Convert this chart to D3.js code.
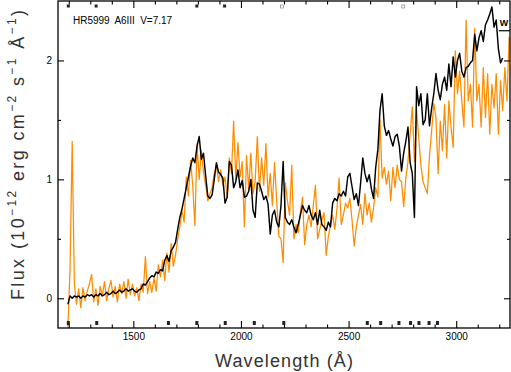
<!DOCTYPE html>
<html>
<head>
<meta charset="utf-8">
<script src="https://cdn.jsdelivr.net/npm/d3@7"></script>
<style>
  body { margin: 0; background: #fff; }
  svg { display: block; font-family: "Liberation Sans", Arial, sans-serif; }
</style>
</head>
<body>
<svg id="spectrumSvg" width="511" height="372"></svg>
<script>
// spectrum values, 10 A steps starting at 1196 A
var starLabel = "HR5999  A6III  V=7.17";
var lamStart = 1196,
  lamStep = 10;

var fluxOrange = [
  -0.24, 0.25, 1.32, 0.12, -0.05, 0.08, -0.08, 0.09, -0.02, 0.06,
  0.12, 0.20, -0.03, 0.08, -0.06, 0.10, 0.02, 0.14, -0.02, 0.08,
  0.15, 0.01, 0.10, -0.03, 0.12, 0.04, 0.14, 0.00, 0.16, 0.03,
  0.12, 0.02, 0.09, -0.02, 0.12, 0.05, 0.35, 0.04, 0.14, 0.05,
  0.17, 0.06, 0.28, 0.18, 0.32, 0.15, 0.38, 0.22, 0.46, 0.27,
  0.36, 0.50, 0.60, 0.74, 0.64, 1.02, 0.86, 1.16, 0.95, 0.61,
  1.30, 1.00, 1.24, 1.06, 0.95, 0.82, 0.88, 0.93, 1.05, 1.12,
  0.98, 1.08, 0.95, 1.02, 0.85, 1.18, 1.05, 1.49, 1.00, 1.31,
  1.02, 1.15, 0.60, 1.20, 0.92, 1.22, 0.88, 0.98, 1.36, 0.90,
  1.18, 0.95, 1.30, 0.85, 1.05, 0.78, 1.14, 0.82, 0.52, 0.50,
  0.30, 0.97, 0.82, 0.70, 1.12, 0.50, 0.62, 0.55, 0.72, 0.85,
  0.45, 0.62, 0.70, 0.60, 0.78, 0.95, 0.50, 0.58, 0.66, 0.72,
  0.36, 0.52, 0.62, 0.70, 0.58, 0.75, 1.01, 0.62, 0.70, 0.80,
  0.76, 0.84, 0.66, 0.44, 0.60, 0.70, 0.79, 0.62, 0.88, 0.70,
  0.80, 0.64, 0.76, 0.93, 0.85, 1.50, 1.01, 1.10, 0.96, 1.07,
  0.82, 1.10, 0.93, 1.12, 1.00, 0.98, 0.77, 1.01, 1.15, 1.38,
  1.61, 1.15, 1.58, 1.35, 1.12, 0.98, 0.93, 0.88, 1.20, 1.41,
  1.64, 1.52, 1.05, 1.49, 1.24, 1.63, 1.18, 1.66, 1.44, 1.27,
  2.08, 1.72, 1.91, 1.66, 1.44, 2.34, 1.66, 1.80, 1.44, 2.27,
  1.66, 1.80, 1.44, 1.94, 1.52, 1.89, 1.38, 1.80, 1.60, 1.89,
  1.38, 1.83, 1.58, 1.94, 1.66, 2.20
];

var fluxBlack = [
  -0.05, 0.02, 0.00, 0.02, 0.01, 0.02, 0.00, 0.02, 0.01, 0.03,
  0.02, 0.03, 0.01, 0.03, 0.02, 0.04, 0.02, 0.03, 0.05, 0.03,
  0.04, 0.06, 0.04, 0.05, 0.07, 0.05, 0.06, 0.08, 0.06, 0.07,
  0.08, 0.06, 0.05, 0.07, 0.08, 0.12, 0.11, 0.14, 0.17, 0.19,
  0.18, 0.22, 0.21, 0.24, 0.23, 0.32, 0.36, 0.31, 0.40, 0.43,
  0.47, 0.58, 0.68, 0.75, 0.84, 0.93, 1.02, 1.11, 1.18, 1.14,
  1.28, 1.36, 1.17, 1.22, 1.03, 0.86, 0.84, 0.87, 1.00, 1.14,
  1.06, 1.04, 1.01, 0.80, 0.85, 1.15, 1.12, 0.93, 0.98, 1.08,
  0.93, 0.99, 0.85, 0.86, 0.90, 1.00, 0.74, 0.68, 0.97, 0.96,
  0.90, 0.83, 0.86, 0.79, 0.54, 0.70, 0.74, 0.64, 0.60, 0.78,
  1.15, 0.68, 0.64, 0.62, 0.66, 0.60, 0.55, 0.62, 0.70, 0.78,
  0.74, 0.72, 0.78, 0.70, 0.66, 0.72, 0.62, 0.74, 0.62, 0.60,
  0.57, 0.64, 0.60, 0.80, 0.84, 0.82, 0.88, 0.86, 0.90, 0.86,
  1.02, 1.05, 0.94, 0.83, 0.88, 0.78, 0.97, 1.18, 1.05, 0.98,
  1.04, 0.92, 0.84, 1.10, 1.25, 1.58, 1.72, 1.45, 1.37, 1.41,
  1.34, 1.28, 1.36, 1.38, 1.28, 1.07, 1.22, 1.32, 1.44, 1.14,
  1.05, 0.68, 1.78, 1.62, 1.72, 1.46, 1.50, 1.72, 1.45, 1.60,
  1.72, 1.89, 1.75, 1.67, 1.80, 1.86, 1.75, 1.97, 1.78, 2.03,
  1.86, 2.00, 2.06, 1.91, 1.86, 1.94, 1.95, 1.98, 2.00, 2.22,
  2.08, 2.19, 2.25, 2.16, 2.30, 2.34, 2.39, 2.45, 2.28, 2.34,
  2.10, 1.98, 2.02
];

var xTickValues = [1500, 2000, 2500, 3000];
var yTickValues = [0, 1, 2];

// quality flags along the bottom and top edges
var flagsBottom = [1198, 1330, 1663, 1795, 1927, 2062, 2199, 2587, 2649, 2734, 2788, 2827, 2874, 2913];
var flagsTopFilled = [1198, 1327, 1795, 1924];
var flagsTopOpen = [2191, 2754];
var wRange = [3198, 3250],
  wLevel = 2.25;

var svg = d3.select("svg#spectrumSvg"),
  margin = { top: 1, right: 1, bottom: 44, left: 58 },
  width = +svg.attr("width") - margin.left - margin.right,
  height = +svg.attr("height") - margin.top - margin.bottom,
  g = svg
    .append("g")
    .attr("transform", "translate(" + margin.left + "," + margin.top + ")");

var x = d3.scaleLinear().domain([1150, 3250]).range([0, width]);
var y = d3.scaleLinear().domain([-0.25, 2.5]).range([height, 0]);

function toPoints(arr) {
  return arr.map(function (v, i) {
    return [lamStart + i * lamStep, v];
  });
}

svg
  .append("defs")
  .append("clipPath")
  .attr("id", "plotClip")
  .append("rect")
  .attr("width", width)
  .attr("height", height);

var line = d3
  .line()
  .x(function (d) {
    return x(d[0]);
  })
  .y(function (d) {
    return y(d[1]);
  });

var plot = g.append("g").attr("clip-path", "url(#plotClip)");

plot
  .append("path")
  .datum(toPoints(fluxOrange))
  .attr("fill", "none")
  .attr("stroke", "#ff8c00")
  .attr("stroke-width", 1.25)
  .attr("stroke-linejoin", "round")
  .attr("d", line);

plot
  .append("path")
  .datum(toPoints(fluxBlack))
  .attr("fill", "none")
  .attr("stroke", "#000")
  .attr("stroke-width", 1.45)
  .attr("stroke-linejoin", "round")
  .attr("d", line);

// flags
g.append("g")
  .selectAll("rect")
  .data(flagsBottom)
  .enter()
  .append("rect")
  .attr("x", function (d) {
    return x(d) - 1.5;
  })
  .attr("y", height - 7)
  .attr("width", 3)
  .attr("height", 4)
  .attr("fill", "#222");

g.append("g")
  .selectAll("rect")
  .data(flagsTopFilled)
  .enter()
  .append("rect")
  .attr("x", function (d) {
    return x(d) - 1.5;
  })
  .attr("y", 3.5)
  .attr("width", 3)
  .attr("height", 3)
  .attr("fill", "#222");

g.append("g")
  .selectAll("rect")
  .data(flagsTopOpen)
  .enter()
  .append("rect")
  .attr("x", function (d) {
    return x(d) - 1.5;
  })
  .attr("y", 4)
  .attr("width", 3)
  .attr("height", 3)
  .attr("fill", "none")
  .attr("stroke", "#888")
  .attr("stroke-width", 0.7);

g.append("line")
  .attr("x1", x(wRange[0]))
  .attr("x2", x(wRange[1]))
  .attr("y1", y(wLevel))
  .attr("y2", y(wLevel))
  .attr("stroke", "#000")
  .attr("stroke-width", 1.2);

g.append("text")
  .attr("x", x(3222))
  .attr("y", y(wLevel) - 5)
  .attr("text-anchor", "middle")
  .attr("font-size", 9)
  .attr("font-weight", "bold")
  .text("W");

// axes: ticks point inward on all four sides
function clean(sel) {
  sel.select(".domain").remove();
  sel.attr("font-family", null);
}

var minorX = d3.range(1200, 3250, 100).filter(function (d) {
  return xTickValues.indexOf(d) < 0;
});
var minorY = [0.5, 1.5];

g.append("g")
  .attr("transform", "translate(0," + height + ")")
  .call(d3.axisBottom(x).tickValues(xTickValues).tickSize(-7).tickPadding(5).tickFormat(d3.format("d")))
  .call(clean)
  .attr("font-size", 10);

g.append("g")
  .attr("transform", "translate(0," + height + ")")
  .call(d3.axisBottom(x).tickValues(minorX).tickSize(-3.5).tickFormat(""))
  .call(clean);

g.append("g")
  .call(d3.axisTop(x).tickValues(xTickValues).tickSize(-7).tickFormat(""))
  .call(clean);

g.append("g")
  .call(d3.axisTop(x).tickValues(minorX).tickSize(-3.5).tickFormat(""))
  .call(clean);

g.append("g")
  .call(d3.axisLeft(y).tickValues(yTickValues).tickSize(-6).tickPadding(6).tickFormat(d3.format("d")))
  .call(clean)
  .attr("font-size", 10);

g.append("g")
  .call(d3.axisLeft(y).tickValues(minorY).tickSize(-3).tickFormat(""))
  .call(clean);

g.append("g")
  .attr("transform", "translate(" + width + ",0)")
  .call(d3.axisRight(y).tickValues(yTickValues).tickSize(-6).tickFormat(""))
  .call(clean);

g.append("g")
  .attr("transform", "translate(" + width + ",0)")
  .call(d3.axisRight(y).tickValues(minorY).tickSize(-3).tickFormat(""))
  .call(clean);

g.selectAll(".tick line").attr("stroke-width", 1.1);

g.append("rect")
  .attr("width", width)
  .attr("height", height)
  .attr("fill", "none")
  .attr("stroke", "#000")
  .attr("stroke-width", 1.3);

g.append("text")
  .attr("x", 15)
  .attr("y", 23)
  .attr("font-size", 10)
  .attr("textLength", 99)
  .attr("lengthAdjust", "spacing")
  .style("white-space", "pre")
  .text(starLabel);

// axis titles
svg
  .append("text")
  .attr("x", margin.left + width / 2)
  .attr("y", 367)
  .attr("text-anchor", "middle")
  .attr("font-size", 18)
  .attr("fill", "#333")
  .attr("textLength", 138)
  .attr("lengthAdjust", "spacing")
  .text("Wavelength (Å)");

var yTitle = svg
  .append("text")
  .attr("transform", "translate(24,155) rotate(-90)")
  .attr("text-anchor", "middle")
  .attr("font-size", 18)
  .attr("fill", "#333")
  .attr("textLength", 290)
  .attr("lengthAdjust", "spacing")
  .style("white-space", "pre");

var yParts = [
  ["Flux (10", 0],
  ["\u221212", 1],
  [" erg cm", 0],
  ["\u22122", 1],
  [" s", 0],
  ["\u22121", 1],
  [" Å", 0],
  ["\u22121", 1],
  [")", 0]
];
var raised = false;
yParts.forEach(function (p) {
  var dy = 0;
  if (p[1] && !raised) dy = -8;
  if (!p[1] && raised) dy = 8;
  raised = !!p[1];
  yTitle
    .append("tspan")
    .attr("dy", dy)
    .attr("font-size", p[1] ? 12 : 18)
    .text(p[0]);
});
</script>
</body>
</html>
